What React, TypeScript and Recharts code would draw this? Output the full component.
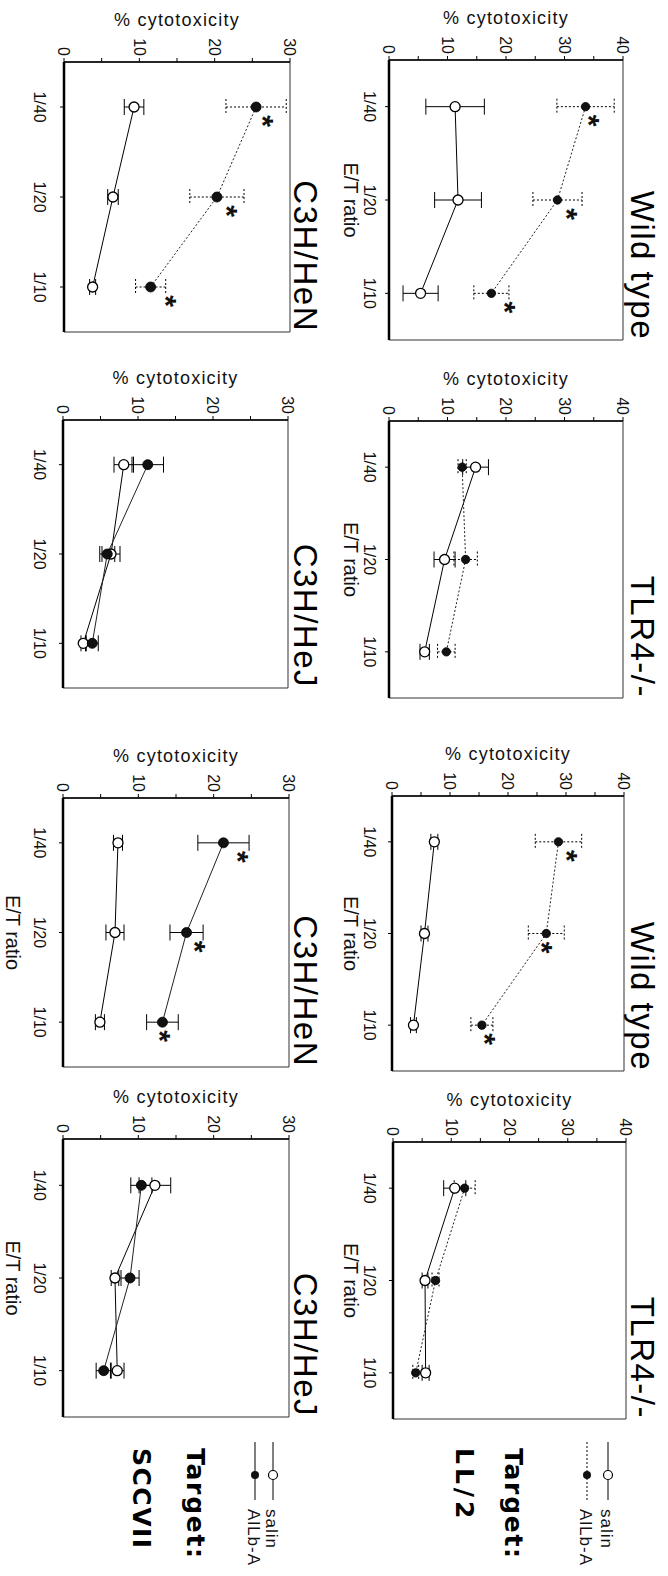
import React from "react"
import { LineChart, Line, XAxis, YAxis, ErrorBar, ReferenceArea, Label } from "recharts"

// The figure is laid out landscape (1576 x 668) and turned 90deg clockwise at the end.
const FONT = '"Liberation Sans", Arial, Helvetica, sans-serif'
const BOLD_FONT = '"DejaVu Sans", "Liberation Sans", Arial, sans-serif'

const ratios = ["1/40", "1/20", "1/10"]
const llTicks = [0, 5, 10, 15, 20, 25, 30, 35, 40]
const sccTicks = [0, 5, 10, 15, 20, 25, 30]

// Target: LL/2
const wt1Salin = [11.3, 11.8, 5.4]
const wt1SalinErr = [5.0, 4.0, 3.0]
const wt1Allb = [33.6, 28.8, 17.5]
const wt1AllbErr = [4.9, 4.2, 3.0]
const wt1Stars = [35.3, 31.6, 21.0]

const tlr1Salin = [14.8, 9.5, 6.1]
const tlr1SalinErr = [2.2, 1.8, 0.8]
const tlr1Allb = [12.5, 13.1, 9.8]
const tlr1AllbErr = [0.7, 2.0, 1.5]

const wt2Salin = [7.3, 5.6, 3.7]
const wt2SalinErr = [0.6, 0.6, 0.5]
const wt2Allb = [28.7, 26.6, 15.5]
const wt2AllbErr = [4.0, 3.1, 1.9]
const wt2Stars = [31.3, 27.0, 17.3]

const tlr2Salin = [10.6, 5.5, 5.6]
const tlr2SalinErr = [1.9, 0.5, 0.6]
const tlr2Allb = [12.3, 7.3, 3.9]
const tlr2AllbErr = [1.8, 0.6, 0.5]

// Target: SCCVII
const hen1Salin = [9.3, 6.5, 3.8]
const hen1SalinErr = [1.3, 0.7, 0.4]
const hen1Allb = [25.5, 20.3, 11.5]
const hen1AllbErr = [4.0, 3.6, 2.0]
const hen1Stars = [27.3, 22.6, 14.5]

const hej1Salin = [8.1, 6.4, 2.7]
const hej1SalinErr = [1.3, 1.2, 0.3]
const hej1Allb = [11.3, 5.9, 3.9]
const hej1AllbErr = [2.1, 1.0, 0.8]

const hen2Salin = [7.3, 6.9, 4.9]
const hen2SalinErr = [0.6, 1.2, 0.6]
const hen2Allb = [21.3, 16.4, 13.2]
const hen2AllbErr = [3.4, 2.2, 2.1]
const hen2Stars = [24.2, 18.5, 13.8]

const hej2Salin = [12.2, 6.9, 7.2]
const hej2SalinErr = [2.1, 0.5, 0.9]
const hej2Allb = [10.4, 8.9, 5.4]
const hej2AllbErr = [1.4, 1.2, 1.0]

type Row = {
  yMax: number
  ticks: number[]
  titleBase: number
  tickTop: number
  etBase: number
  mb: number
  dotR: number
}

const LL: Row = { yMax: 40, ticks: llTicks, titleBase: 37, tickTop: 293, etBase: 324, mb: 50, dotR: 4.2 }
const SCC: Row = { yMax: 30, ticks: sccTicks, titleBase: 374, tickTop: 623, etBase: 662, mb: 60, dotR: 5 }

type Panel = {
  title: string
  row: Row
  salin: number[]
  salinErr: number[]
  allb: number[]
  allbErr: number[]
  stars?: number[]
  box: { x: number; y: number; w: number; h: number }
  showEt: boolean
  allbDotted: boolean
}

const panels: Panel[] = [
  { title: "Wild type", row: LL, salin: wt1Salin, salinErr: wt1SalinErr, allb: wt1Allb, allbErr: wt1AllbErr, stars: wt1Stars, box: { x: 60, y: 45, w: 280, h: 234 }, showEt: true, allbDotted: true },
  { title: "TLR4-/-", row: LL, salin: tlr1Salin, salinErr: tlr1SalinErr, allb: tlr1Allb, allbErr: tlr1AllbErr, box: { x: 421, y: 45, w: 277, h: 234 }, showEt: true, allbDotted: true },
  { title: "Wild type", row: LL, salin: wt2Salin, salinErr: wt2SalinErr, allb: wt2Allb, allbErr: wt2AllbErr, stars: wt2Stars, box: { x: 796, y: 44, w: 275, h: 232 }, showEt: true, allbDotted: true },
  { title: "TLR4-/-", row: LL, salin: tlr2Salin, salinErr: tlr2SalinErr, allb: tlr2Allb, allbErr: tlr2AllbErr, box: { x: 1142, y: 42, w: 277, h: 233 }, showEt: true, allbDotted: true },
  { title: "C3H/HeN", row: SCC, salin: hen1Salin, salinErr: hen1SalinErr, allb: hen1Allb, allbErr: hen1AllbErr, stars: hen1Stars, box: { x: 62, y: 378, w: 270, h: 226 }, showEt: false, allbDotted: true },
  { title: "C3H/HeJ", row: SCC, salin: hej1Salin, salinErr: hej1SalinErr, allb: hej1Allb, allbErr: hej1AllbErr, box: { x: 420, y: 380, w: 268, h: 225 }, showEt: false, allbDotted: false },
  { title: "C3H/HeN", row: SCC, salin: hen2Salin, salinErr: hen2SalinErr, allb: hen2Allb, allbErr: hen2AllbErr, stars: hen2Stars, box: { x: 798, y: 379, w: 269, h: 226 }, showEt: true, allbDotted: false },
  { title: "C3H/HeJ", row: SCC, salin: hej2Salin, salinErr: hej2SalinErr, allb: hej2Allb, allbErr: hej2AllbErr, box: { x: 1139, y: 379, w: 278, h: 226 }, showEt: true, allbDotted: false },
]

const ML = 60
const MR = 12
const MT = 12

function openDot(props: any) {
  if (props.cy == null) return <g key={`o${props.index}`} />
  return <circle key={`o${props.index}`} cx={props.cx} cy={props.cy} r={5} fill="#fff" stroke="#000" strokeWidth={1.3} />
}

function makeFilledDot(r: number) {
  return (props: any) => {
    if (props.cy == null) return <g key={`f${props.index}`} />
    return <circle key={`f${props.index}`} cx={props.cx} cy={props.cy} r={r} fill="#111" stroke="#000" strokeWidth={0.8} />
  }
}

function starDot(props: any) {
  if (props.cy == null) return <g key={`s${props.index}`} />
  return (
    <text key={`s${props.index}`} x={props.cx + 14} y={props.cy + 17} textAnchor="middle" fontSize={30} fontWeight="bold" fontFamily={FONT} fill="#111">
      *
    </text>
  )
}

function PanelChart({ p }: { p: Panel }) {
  const { row, box } = p
  const data = ratios.map((r, i) => ({
    x: i + 1,
    ratio: r,
    salin: p.salin[i],
    salinErr: p.salinErr[i],
    allb: p.allb[i],
    allbErr: p.allbErr[i],
    star: p.stars ? p.stars[i] : null,
  }))
  const bottom = box.y + box.h
  const width = box.w + ML + MR
  const height = box.h + MT + row.mb
  const allbDash = p.allbDotted ? "2 2" : undefined
  return (
    <div style={{ position: "absolute", left: box.x - ML, top: box.y - MT }}>
      <LineChart width={width} height={height} data={data} margin={{ top: MT, right: MR, left: 0, bottom: 0 }}>
        <ReferenceArea y1={0} y2={row.yMax} fill="none" stroke="#333" strokeWidth={1} />
        <XAxis
          dataKey="x"
          type="number"
          domain={[0.5, 3.5]}
          ticks={[1, 2, 3]}
          interval={0}
          tickFormatter={(v: number) => ratios[v - 1]}
          height={row.mb}
          tickSize={4}
          tickMargin={row.tickTop - bottom - 4}
          axisLine={{ stroke: "#000", strokeWidth: 2.5 }}
          tickLine={{ stroke: "#000" }}
          tick={{ fontSize: 16, fill: "#111", fontFamily: FONT }}
        />
        <YAxis
          type="number"
          domain={[0, row.yMax]}
          ticks={row.ticks}
          interval={0}
          tickFormatter={(v: number) => (v % 10 === 0 ? String(v) : "")}
          width={ML}
          tickSize={4}
          tickMargin={2}
          axisLine={{ stroke: "#000", strokeWidth: 1.3 }}
          tickLine={{ stroke: "#000" }}
          tick={{ fontSize: 16, fill: "#111", fontFamily: FONT }}
        >
          <Label
            value="% cytotoxicity"
            angle={-90}
            position="insideLeft"
            offset={18}
            style={{ textAnchor: "middle", fontSize: 18, letterSpacing: 1.2, fill: "#111", fontFamily: FONT }}
          />
        </YAxis>
        <Line dataKey="salin" stroke="#000" strokeWidth={1} dot={openDot} activeDot={false} isAnimationActive={false}>
          <ErrorBar dataKey="salinErr" direction="y" width={8} stroke="#000" strokeWidth={1} />
        </Line>
        <Line
          dataKey="allb"
          stroke="#222"
          strokeWidth={1}
          strokeDasharray={allbDash}
          dot={makeFilledDot(row.dotR)}
          activeDot={false}
          isAnimationActive={false}
        >
          <ErrorBar dataKey="allbErr" direction="y" width={8} stroke="#000" strokeWidth={1} strokeDasharray={allbDash} />
        </Line>
        {p.stars && (
          <Line dataKey="star" stroke="none" dot={starDot} activeDot={false} isAnimationActive={false} />
        )}
      </LineChart>
    </div>
  )
}

function LegendBlock({ y1, y2, allbDotted, titleTop, target, targetBase, targetSpacing }: any) {
  const x0 = 1442
  const x1 = 1500
  const mx = 1475
  return (
    <g>
      <line x1={x0} x2={x1} y1={y1} y2={y1} stroke="#000" strokeWidth={1} />
      <circle cx={mx} cy={y1} r={4.5} fill="#fff" stroke="#000" strokeWidth={1.2} />
      <text x={1509} y={y1 + 7} fontSize={17} letterSpacing={1} fontFamily={FONT} fill="#111">salin</text>
      <line x1={x0} x2={x1} y1={y2} y2={y2} stroke="#000" strokeWidth={1} strokeDasharray={allbDotted ? "2 2" : undefined} />
      <circle cx={mx} cy={y2} r={4} fill="#111" />
      <text x={1509} y={y2 + 7} fontSize={17} letterSpacing={1} fontFamily={FONT} fill="#111">AlLb-A</text>
      <text x={1448} y={titleTop} fontSize={25} fontWeight="bold" letterSpacing={1.7} fontFamily={BOLD_FONT} fill="#000">Target:</text>
      <text x={1448} y={targetBase} fontSize={25} fontWeight="bold" letterSpacing={targetSpacing} fontFamily={BOLD_FONT} fill="#000">{target}</text>
    </g>
  )
}

export default function App() {
  return (
    <div style={{ position: "absolute", left: 0, top: 0, width: 668, height: 1576, overflow: "hidden", background: "#fff" }}>
      <div
        style={{
          position: "absolute",
          left: 0,
          top: 0,
          width: 1576,
          height: 668,
          transformOrigin: "0 0",
          transform: "translateX(668px) rotate(90deg)",
          background: "#fff",
        }}
      >
        {panels.map((p, i) => (
          <PanelChart key={i} p={p} />
        ))}
        <svg width={1576} height={668} style={{ position: "absolute", left: 0, top: 0, pointerEvents: "none" }}>
          {panels.map((p, i) => (
            <text
              key={`t${i}`}
              x={p.box.x + p.box.w}
              y={p.row.titleBase}
              textAnchor="end"
              fontSize={33}
              letterSpacing={1.5}
              fontFamily={FONT}
              fill="#000"
            >
              {p.title}
            </text>
          ))}
          {panels
            .filter((p) => p.showEt)
            .map((p, i) => (
              <text
                key={`e${i}`}
                x={p.box.x + p.box.w / 2}
                y={p.row.etBase}
                textAnchor="middle"
                fontSize={20}
                fontFamily={FONT}
                fill="#111"
              >
                E/T ratio
              </text>
            ))}
          <LegendBlock y1={60} y2={81} allbDotted={true} titleTop={163} target="LL/2" targetBase={212} targetSpacing={4} />
          <LegendBlock y1={395} y2={413} allbDotted={false} titleTop={481} target="SCCVII" targetBase={535} targetSpacing={1.5} />
        </svg>
      </div>
    </div>
  )
}
